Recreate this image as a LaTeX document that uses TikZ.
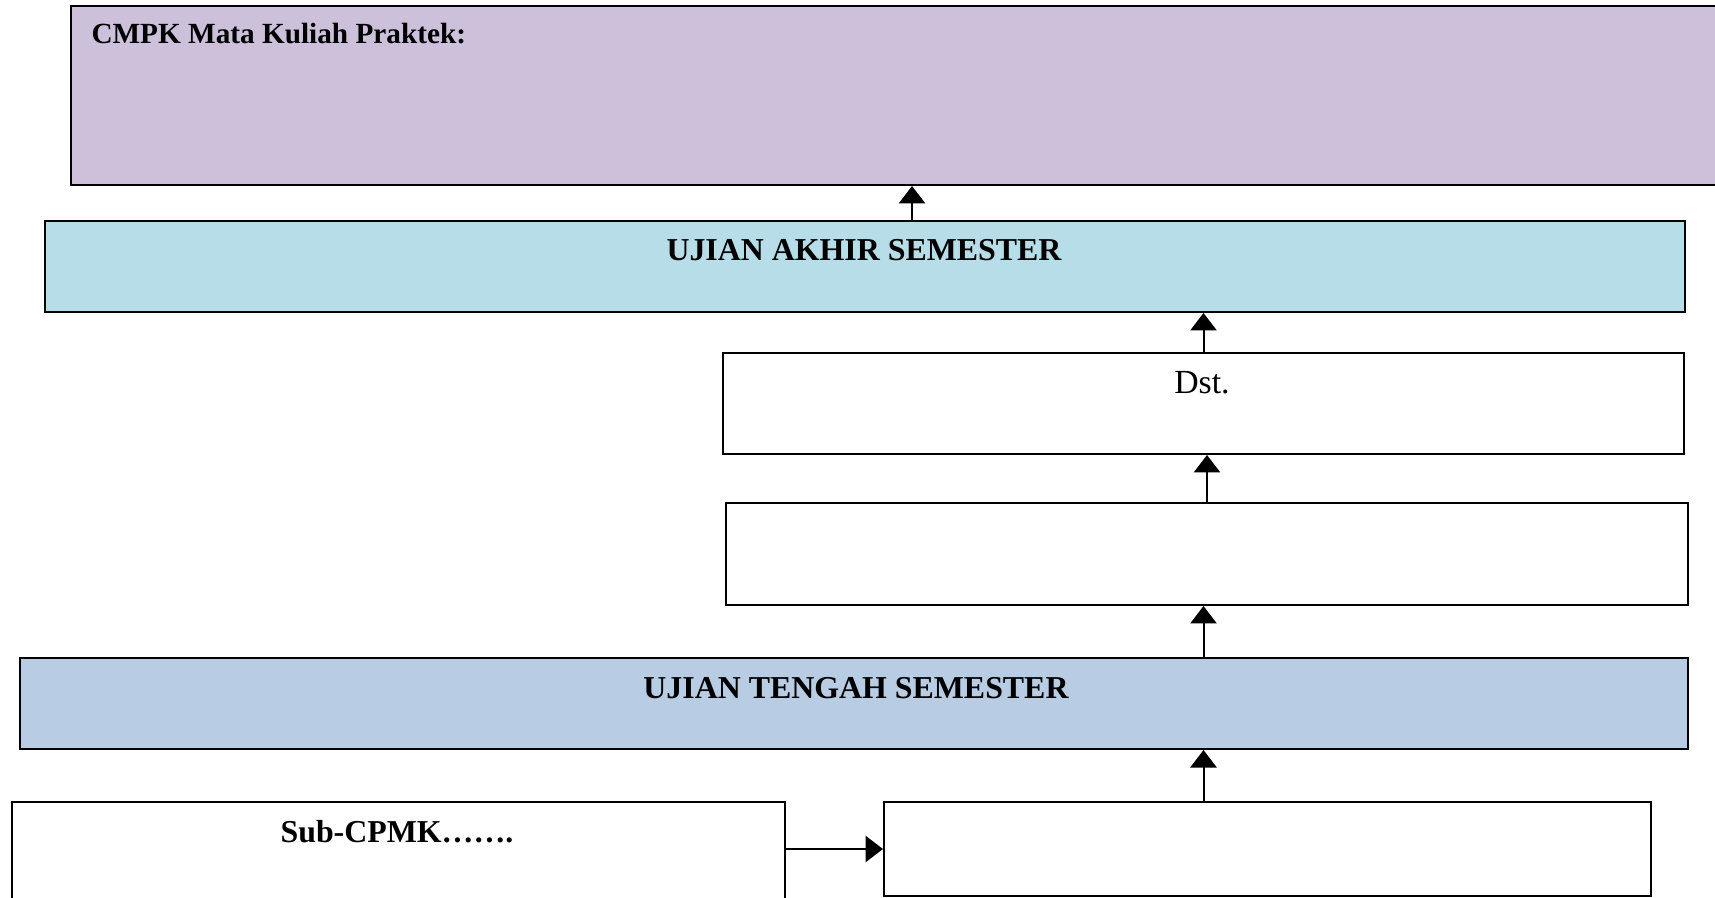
\documentclass[tikz,border=0pt]{standalone}
\usepackage{fontspec}
\setmainfont{Liberation Serif}
\usetikzlibrary{arrows.meta}
\definecolor{lavender}{HTML}{CCC0DA}
\definecolor{paleblue}{HTML}{B7DDE8}
\definecolor{steelpale}{HTML}{B8CCE4}

\begin{document}
\begin{tikzpicture}[x=0.4pt,y=-0.4pt,>={Triangle[width=10.5pt,length=7pt]},
  box/.style={draw, line width=0.8pt, anchor=north west, inner sep=0pt},
  head/.style={inner sep=0pt, font=\fontsize{12.75}{14}\selectfont\bfseries},
  link/.style={->, line width=0.8pt}]
\useasboundingbox (0,0) rectangle (1715,898);
\clip (0,0) rectangle (1715,898);
\node[box, fill=lavender, minimum width=676pt, minimum height=71.4pt] (cpmk) at (70,5.5) {};
\node[head, anchor=west, font=\fontsize{11.7}{14}\selectfont\bfseries] (cpmk-t) at (91,34) {CMPK Mata Kuliah Praktek:};
\node[box, fill=paleblue, minimum width=656pt, minimum height=36.4pt] (uas) at (44,220) {};
\node[head] (uas-t) at (864,250) {UJIAN AKHIR SEMESTER};
\node[box, fill=white, minimum width=384.4pt, minimum height=40.4pt] (dst) at (722,352) {};
\node[inner sep=0pt, font=\fontsize{13.5}{14}\selectfont] (dst-t) at (1202,383) {Dst.};
\node[box, fill=white, minimum width=384.8pt, minimum height=40.8pt] (mid) at (725,502) {};
\node[box, fill=steelpale, minimum width=667.2pt, minimum height=36.4pt] (uts) at (19,657) {};
\node[head] (uts-t) at (856,688) {UJIAN TENGAH SEMESTER};
\node[box, fill=white, minimum width=309.2pt, minimum height=64pt] (sub) at (11,801) {};
\node[head] (sub-t) at (397,832) {Sub-CPMK…….};
\node[box, fill=white, minimum width=306.8pt, minimum height=37.6pt] (hasil) at (883,801) {};
\draw[link] ([xshift=18.8pt]uas.north) -- ([xshift=18.8pt]uas.north |- cpmk.south);
\draw[link] (dst.north) -- (dst.north |- uas.south);
\draw[link] (mid.north) -- (mid.north |- dst.south);
\draw[link] (uts.north -| dst.north) -- (dst.north |- mid.south);
\draw[link] (hasil.north -| dst.north) -- (dst.north |- uts.south);
\draw[link] (sub.east |- hasil.west) -- (hasil.west);
\end{tikzpicture}
\end{document}
